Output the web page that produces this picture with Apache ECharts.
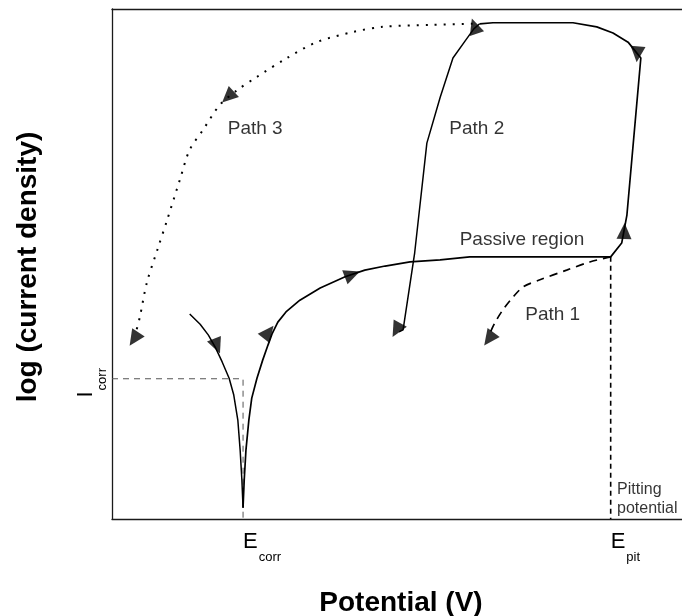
<!DOCTYPE html>
<html>
<head>
<meta charset="utf-8">
<script src="https://cdn.jsdelivr.net/npm/echarts@6/dist/echarts.min.js"></script>
<style>
  html, body { margin: 0; padding: 0; background: #fff; }
  #chart { width: 682px; height: 616px; }
</style>
</head>
<body>
<div id="chart"></div>
<script>
// Schematic cyclic polarization curve, arbitrary units:
// x = potential, y = log current density (0-100)
const E_CORR = 22.6;
const E_PIT = 86.0;
const I_CORR = 27.5;
const I_PASSIVE = 51.4;
const X_MAX = 98.3;

const xTickValues = [E_CORR, E_PIT];
const xTickLabels = [['E', 'corr'], ['E', 'pit']];
const yTickValues = [I_CORR];
const yTickLabels = [['I', 'corr']];

// cathodic branch, running down into the E_corr cusp
const cathodicBranch = [
  [13.4, 40.2], [15.2, 38.2], [16.6, 36.1], [17.8, 33.7], [19.0, 30.8],
  [20.2, 27.6], [21.0, 24.3], [21.7, 19.4], [22.1, 13.5], [22.4, 7.6], [22.6, 2.2]
];

// anodic branch: active rise, passive plateau, breakdown at E_pit, top of loop
const anodicBranch = [
  [22.6, 2.2], [22.8, 7.6], [23.1, 13.5], [23.6, 19.4], [24.1, 23.7], [25.0, 27.6],
  [26.0, 31.2], [26.9, 34.1], [27.6, 36.3], [28.6, 38.6], [30.0, 40.6], [32.4, 42.9],
  [35.9, 45.3], [40.2, 47.5], [43.6, 48.8], [47.1, 49.6], [51.4, 50.4], [56.6, 50.8],
  [61.7, 51.4], [86.0, 51.4], [87.9, 54.1], [88.8, 59.6], [91.2, 90.4], [89.0, 93.5],
  [86.4, 95.3], [83.6, 96.5], [79.5, 97.3], [65.7, 97.3], [63.4, 97.1]
];

// Path 2: reverse scan with a large hysteresis loop
const path2 = [
  [63.4, 97.1], [62.4, 96.1], [61.0, 93.9], [58.8, 90.4], [56.6, 82.7],
  [54.3, 73.7], [52.2, 52.2], [50.2, 37.1], [49.5, 36.7]
];

// Path 3: reverse scan, dotted
const path3 = [
  [62.2, 97.1], [55.3, 96.9], [46.7, 96.5], [41.6, 95.5], [35.3, 93.5], [30.2, 90.4],
  [25.0, 86.7], [21.6, 84.1], [18.6, 81.2], [15.7, 76.3], [13.4, 72.4], [11.7, 66.5],
  [9.5, 58.6], [7.8, 52.7], [6.0, 46.3], [4.8, 39.6], [4.0, 36.1]
];

// Path 1: reverse scan from the pitting potential, dashed
const path1 = [
  [86.0, 51.4], [82.4, 50.4], [78.4, 48.8], [73.8, 46.9], [70.9, 45.5],
  [69.0, 43.3], [67.4, 41.0], [66.0, 38.4], [65.2, 36.5]
];

// guide lines for I_corr / E_corr and E_pit
const corrGuide = [[0, I_CORR], [E_CORR, I_CORR], [E_CORR, 0]];
const pitGuide = [[E_PIT, I_PASSIVE], [E_PIT, 0]];

// arrowheads: [base x, base y, tip x, tip y]
const arrowheads = [
  [17.6, 35.3, 18.6, 32.5],
  [26.2, 35.5, 27.8, 37.8],
  [39.5, 47.1, 43.4, 48.8],
  [88.3, 54.9, 88.4, 58.0],
  [90.7, 92.4, 90.5, 89.8],
  [62.9, 95.3, 62.1, 98.0],
  [49.7, 38.4, 48.4, 35.7],
  [20.9, 83.7, 19.1, 81.8],
  [4.5, 36.5, 3.1, 34.1],
  [65.9, 36.7, 64.1, 33.9]
];

const annotations = [
  { name: 'Path 3', value: [24.7, 76.5] },
  { name: 'Path 2', value: [62.9, 76.5] },
  { name: 'Passive region', value: [70.7, 54.7] },
  { name: 'Path 1', value: [76.0, 40.0] }
];
const pitNote = [{ name: 'Pitting\npotential', value: [87.1, 3.9] }];

const FONT = '"Liberation Sans", Arial, Helvetica, sans-serif';
const INK = '#000';

const xRich = {
  e: { fontSize: 22, fontFamily: FONT, color: INK, verticalAlign: 'top', lineHeight: 24 },
  s: { fontSize: 13, fontFamily: FONT, color: INK, verticalAlign: 'top', lineHeight: 13, padding: [20, 0, 0, 1] }
};
const yRich = {
  e: { fontSize: 22, fontFamily: FONT, color: INK, verticalAlign: 'top', lineHeight: 24 },
  s: { fontSize: 13, fontFamily: FONT, color: INK, verticalAlign: 'top', lineHeight: 13, padding: [21, 8, 0, 1] }
};

function tickText(values, labels) {
  return function (v) {
    let best = 0;
    values.forEach((t, i) => { if (Math.abs(t - v) < Math.abs(values[best] - v)) best = i; });
    const l = labels[best];
    return '{e|' + l[0] + '}{s|' + l[1] + '}';
  };
}

function lineSeries(name, data, style, smooth) {
  return {
    name: name, type: 'line', data: data, showSymbol: false, symbol: 'none',
    smooth: smooth || false, lineStyle: style, silent: true, z: 3
  };
}

const frameLine = { show: true, lineStyle: { color: '#1a1a1a', width: 1.3 } };

const chart = echarts.init(document.getElementById('chart'), null, { renderer: 'canvas' });

const option = {
  animation: false,
  backgroundColor: '#fff',
  grid: { left: 112, top: 9, right: 0, height: 510, containLabel: false, outerBoundsMode: 'none' },
  xAxis: [
    {
      type: 'value', min: 0, max: X_MAX, position: 'bottom',
      name: 'Potential (V)', nameLocation: 'middle', nameGap: 70,
      nameTextStyle: { fontSize: 28, fontWeight: 'bold', fontFamily: FONT, color: INK, padding: [0, 0, 0, 8] },
      axisLine: frameLine, axisTick: { show: false }, splitLine: { show: false },
      axisLabel: {
        customValues: xTickValues, formatter: tickText(xTickValues, xTickLabels),
        align: 'left', margin: 12, rich: xRich
      }
    },
    {
      type: 'value', min: 0, max: X_MAX, position: 'top',
      axisLine: frameLine, axisTick: { show: false }, splitLine: { show: false },
      axisLabel: { show: false }
    }
  ],
  yAxis: {
    type: 'value', min: 0, max: 100,
    name: 'log (current density)', nameLocation: 'middle', nameGap: 70,
    nameTextStyle: { fontSize: 28, fontWeight: 'bold', fontFamily: FONT, color: INK, padding: [0, 6, 0, 0] },
    axisLine: frameLine, axisTick: { show: false }, splitLine: { show: false },
    axisLabel: {
      customValues: yTickValues, formatter: tickText(yTickValues, yTickLabels),
      rotate: 90, margin: 13, rich: yRich
    }
  },
  series: [
    lineSeries('corr guide', corrGuide, { color: '#555', width: 1, type: [6, 5] }),
    lineSeries('pit guide', pitGuide, { color: '#000', width: 1.6, type: [5, 4] }),
    lineSeries('cathodic', cathodicBranch, { color: '#000', width: 1.5 }),
    lineSeries('anodic', anodicBranch, { color: '#000', width: 1.7 }),
    lineSeries('Path 2', path2, { color: '#000', width: 1.5 }),
    lineSeries('Path 3', path3, { color: '#000', width: 2, type: [2, 7], cap: 'butt' }, 0.3),
    lineSeries('Path 1', path1, { color: '#000', width: 1.7, type: [8, 6] }, 0.3),
    {
      id: 'arrows', type: 'scatter', data: [], symbol: 'triangle', symbolSize: [15, 16],
      itemStyle: { color: '#000' }, silent: true, z: 5
    },
    {
      type: 'scatter', data: annotations, symbolSize: 1,
      itemStyle: { color: 'rgba(0,0,0,0)' }, silent: true, z: 6,
      label: {
        show: true, position: 'inside', formatter: '{b}',
        fontSize: 19, fontFamily: FONT, color: INK
      }
    },
    {
      type: 'scatter', data: pitNote, symbolSize: 1,
      itemStyle: { color: 'rgba(0,0,0,0)' }, silent: true, z: 6,
      label: {
        show: true, position: 'inside', formatter: '{b}', align: 'left', lineHeight: 19,
        fontSize: 16, fontFamily: FONT, color: INK
      }
    }
  ]
};

chart.setOption(option);

// orient each arrowhead along its base -> tip direction in screen space
const arrowData = arrowheads.map(([bx, by, tx, ty]) => {
  const b = chart.convertToPixel({ gridIndex: 0 }, [bx, by]);
  const t = chart.convertToPixel({ gridIndex: 0 }, [tx, ty]);
  const angle = Math.atan2(-(t[1] - b[1]), t[0] - b[0]) * 180 / Math.PI - 90;
  return { value: [(bx + tx) / 2, (by + ty) / 2], symbolRotate: angle };
});
chart.setOption({ series: [{ id: 'arrows', data: arrowData }] });
</script>
</body>
</html>
